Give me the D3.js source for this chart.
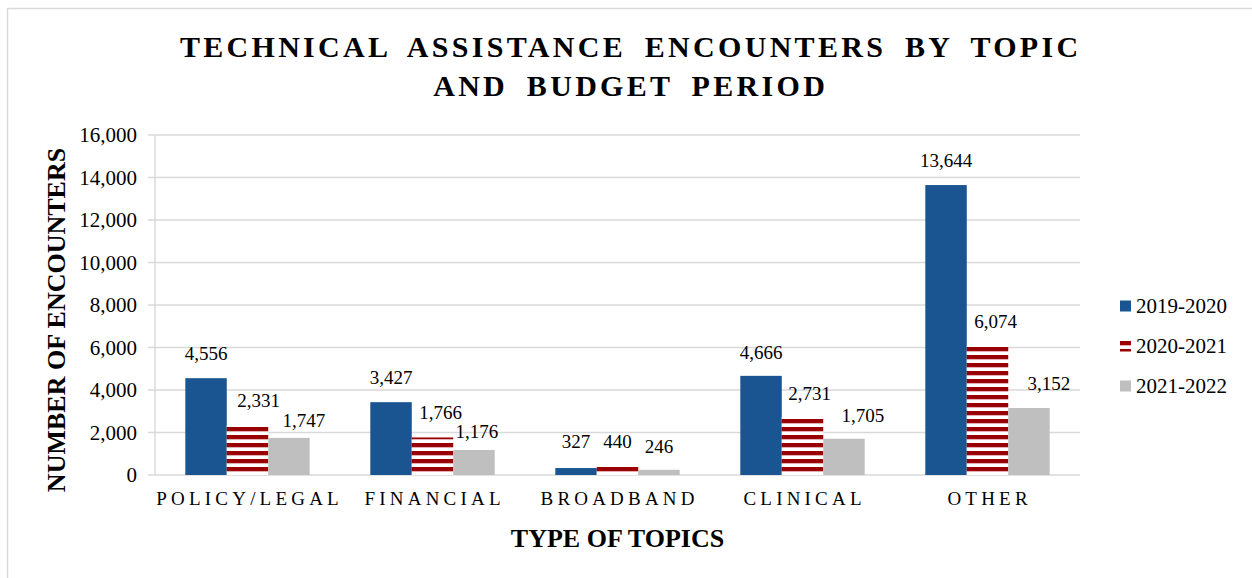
<!DOCTYPE html>
<html>
<head>
<meta charset="utf-8">
<script src="https://cdn.jsdelivr.net/npm/d3@7"></script>
<style>
  html, body { margin: 0; padding: 0; background: #fff; }
  svg { display: block; }
  text { font-family: "Liberation Serif", "Times New Roman", serif; fill: #000; }
</style>
</head>
<body>
<svg id="chart" width="1252" height="578"></svg>
<script>
// Topics and budget periods
const categories = ["POLICY/LEGAL", "FINANCIAL", "BROADBAND", "CLINICAL", "OTHER"];
const periods = ["2019-2020", "2020-2021", "2021-2022"];

// Encounters per topic, one array per budget period
const values2019 = [4556, 3427, 327, 4666, 13644];
const values2020 = [2331, 1766, 440, 2731, 6074];
const values2021 = [1747, 1176, 246, 1705, 3152];

const yTicks = [0, 2000, 4000, 6000, 8000, 10000, 12000, 14000, 16000];

// Small label nudges (px) so neighbouring value labels don't collide
const labelDx = [
  [0, 0, 0, 0, 0],
  [11, 8, 0, 7, 8],
  [15, 3, 0, 19, 20]
];
const labelGap = [
  [18, 18, 20, 17, 18],
  [18, 18, 18, 17, 18],
  [11, 12, 17, 17, 18]
];

const series = [values2019, values2020, values2021];
const colors = ["#1a5491", "url(#stripes)", "#bfbfbf"];

const svg = d3.select("#chart");
const fmt = d3.format(",");

// Red/white horizontal stripe fill for the middle series
const defs = svg.append("defs");
const pat = defs.append("pattern")
  .attr("id", "stripes")
  .attr("patternUnits", "userSpaceOnUse")
  .attr("x", 0).attr("y", 3)
  .attr("width", 8).attr("height", 8);
pat.append("rect").attr("width", 8).attr("height", 8).attr("fill", "#fff");
pat.append("rect").attr("width", 8).attr("height", 4.3).attr("fill", "#9b0000");

// Outer frame
svg.append("rect")
  .attr("x", 7.5).attr("y", 8.5)
  .attr("width", 1400).attr("height", 800)
  .attr("fill", "none").attr("stroke", "#d9d9d9").attr("stroke-width", 1.5);

const plot = { left: 155, right: 1080, top: 135, bottom: 475 };

const x0 = d3.scaleBand().domain(categories).range([plot.left, plot.right]);
const groupPad = 30.3;
const x1 = d3.scaleBand().domain(d3.range(periods.length))
  .range([groupPad, x0.bandwidth() - groupPad]);
const y = d3.scaleLinear().domain([0, 16000]).range([plot.bottom, plot.top]);

// Gridlines
svg.append("g")
  .selectAll("line")
  .data(yTicks)
  .join("line")
  .attr("x1", plot.left - 7).attr("x2", plot.right)
  .attr("y1", d => y(d)).attr("y2", d => y(d))
  .attr("stroke", "#d9d9d9").attr("stroke-width", 1.4);

// Vertical axis line
svg.append("line")
  .attr("x1", plot.left).attr("x2", plot.left)
  .attr("y1", plot.top).attr("y2", plot.bottom)
  .attr("stroke", "#d9d9d9").attr("stroke-width", 1.4);

// Y tick labels
svg.append("g")
  .selectAll("text")
  .data(yTicks)
  .join("text")
  .attr("x", 137)
  .attr("y", d => y(d))
  .attr("dy", "0.35em")
  .attr("text-anchor", "end")
  .style("font-size", "21px")
  .text(d => fmt(d));

// Bars
series.forEach((vals, s) => {
  svg.append("g")
    .selectAll("rect")
    .data(vals)
    .join("rect")
    .attr("x", (d, i) => x0(categories[i]) + x1(s))
    .attr("y", d => y(d))
    .attr("width", x1.bandwidth())
    .attr("height", d => y(0) - y(d))
    .attr("fill", colors[s]);
});

// Value labels
series.forEach((vals, s) => {
  svg.append("g")
    .selectAll("text")
    .data(vals)
    .join("text")
    .attr("x", (d, i) => x0(categories[i]) + x1(s) + x1.bandwidth() / 2 + labelDx[s][i])
    .attr("y", (d, i) => y(d) - labelGap[s][i])
    .attr("text-anchor", "middle")
    .style("font-size", "19px")
    .text(d => fmt(d));
});

// Category labels (letter-spaced)
const catSpacing = 4.2;
svg.append("g")
  .selectAll("text")
  .data(categories)
  .join("text")
  .attr("x", d => x0(d) + x0.bandwidth() / 2 + catSpacing / 2)
  .attr("y", 505)
  .attr("text-anchor", "middle")
  .style("font-size", "19px")
  .style("letter-spacing", catSpacing + "px")
  .text(d => d);

// Axis titles
svg.append("text")
  .attr("x", (plot.left + plot.right) / 2)
  .attr("y", 547)
  .attr("text-anchor", "middle")
  .style("font-size", "26px")
  .style("font-weight", "bold")
  .text("TYPE OF TOPICS");

svg.append("text")
  .attr("transform", `translate(65, ${(plot.top + plot.bottom) / 2 + 15}) rotate(-90)`)
  .attr("text-anchor", "middle")
  .style("font-size", "26px")
  .style("font-weight", "bold")
  .text("NUMBER OF ENCOUNTERS");

// Title
const titleLines = ["TECHNICAL ASSISTANCE ENCOUNTERS BY TOPIC", "AND BUDGET PERIOD"];
const titleSpacing = 3.3;
svg.append("g")
  .selectAll("text")
  .data(titleLines)
  .join("text")
  .attr("x", 629 + titleSpacing / 2)
  .attr("y", (d, i) => 57 + i * 39)
  .attr("text-anchor", "middle")
  .style("font-size", "30px")
  .style("font-weight", "bold")
  .style("letter-spacing", titleSpacing + "px")
  .style("word-spacing", "8px")
  .text(d => d);

// Legend
const legend = svg.append("g")
  .selectAll("g")
  .data(periods)
  .join("g")
  .attr("transform", (d, i) => `translate(1120, ${306 + i * 40})`);
legend.append("rect")
  .attr("x", 0).attr("y", -5.5)
  .attr("width", 11).attr("height", 11)
  .attr("fill", (d, i) => colors[i]);
legend.append("text")
  .attr("x", 16)
  .attr("y", 6.5)
  .style("font-size", "21px")
  .text(d => d);
</script>
</body>
</html>
